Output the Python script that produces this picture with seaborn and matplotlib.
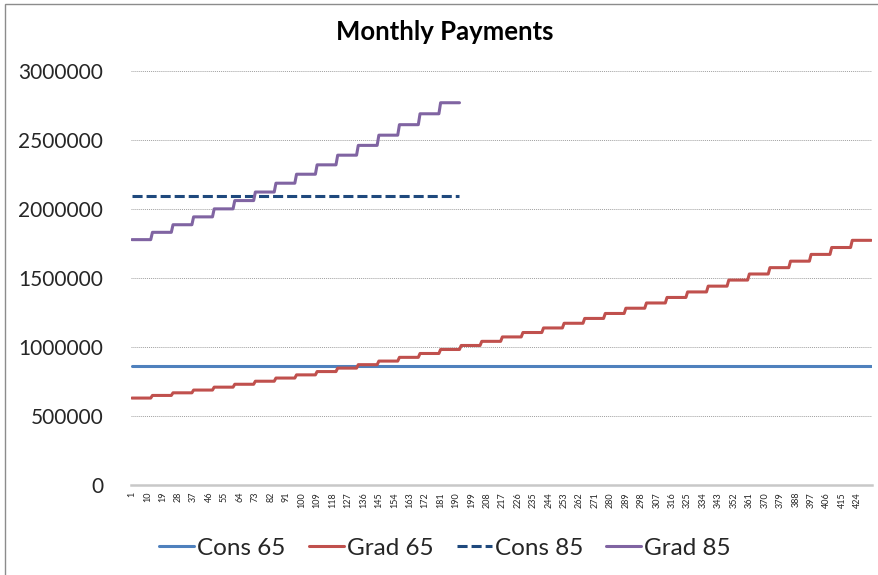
import numpy as np
import pandas as pd
import matplotlib.pyplot as plt
import seaborn as sns
from matplotlib.patches import Rectangle

# values (monthly payment level for each year)
grad65_yearly = [630000, 649000, 668000, 688000, 709000, 730000, 752000, 775000,
                 798000, 822000, 847000, 872000, 898000, 925000, 953000, 982000,
                 1011000, 1041000, 1073000, 1105000, 1138000, 1172000, 1207000, 1243000,
                 1281000, 1319000, 1359000, 1399000, 1441000, 1485000, 1529000, 1575000,
                 1622000, 1671000, 1721000, 1773000]
grad85_yearly = [1778000, 1831000, 1886000, 1943000, 2001000, 2061000, 2123000, 2187000,
                 2252000, 2320000, 2390000, 2461000, 2535000, 2611000, 2690000, 2770000]
cons65_level = 865000
cons85_level = 2094000
months_65 = 432
months_85 = 192
series_names = ['Cons 65', 'Grad 65', 'Cons 85', 'Grad 85']

m65 = np.arange(1, months_65 + 1)
m85 = np.arange(1, months_85 + 1)
frames = [
    pd.DataFrame({'Month': m65, 'Payment': cons65_level, 'Series': 'Cons 65'}),
    pd.DataFrame({'Month': m65, 'Payment': np.repeat(grad65_yearly, 12), 'Series': 'Grad 65'}),
    pd.DataFrame({'Month': m85, 'Payment': cons85_level, 'Series': 'Cons 85'}),
    pd.DataFrame({'Month': m85, 'Payment': np.repeat(grad85_yearly, 12), 'Series': 'Grad 85'}),
]
df = pd.concat(frames, ignore_index=True)

sns.set_theme(style='white')
plt.rcParams['font.family'] = ['Lato', 'DejaVu Sans']

palette = {'Cons 65': '#4F81BD', 'Grad 65': '#C0504D', 'Cons 85': '#1F497D', 'Grad 85': '#8064A2'}
dashes = {'Cons 65': '', 'Grad 65': '', 'Cons 85': (3.3, 1.3), 'Grad 85': ''}

fig = plt.figure(figsize=(8.79, 5.75), dpi=100)
ax = fig.add_axes([131 / 879, 1 - 485 / 575, (872 - 131) / 879, (485 - 71) / 575])

sns.lineplot(data=df, x='Month', y='Payment', hue='Series', style='Series',
             hue_order=series_names, style_order=series_names,
             palette=palette, dashes=dashes, linewidth=2.2, legend=False, ax=ax,
             estimator=None)

ax.set_xlim(0.5, months_65 + 0.5)
ax.set_ylim(0, 3000000)
ax.set_yticks(np.arange(0, 3000001, 500000))
ax.set_yticklabels([str(v) for v in range(0, 3000001, 500000)], fontsize=15)
ticks = np.arange(1, months_65 + 1, 9)
ax.set_xticks(ticks)
ax.set_xticklabels([str(t) for t in ticks], rotation=90, fontsize=6.5)
ax.tick_params(axis='y', length=0, pad=20)
ax.tick_params(axis='x', length=0, pad=5)
ax.set_xlabel('')
ax.set_ylabel('')
ax.grid(axis='y', color='#a0a0a0', linestyle=(0, (1, 1)), linewidth=0.7)
ax.set_axisbelow(True)
for side in ['top', 'right', 'left']:
    ax.spines[side].set_visible(False)
ax.spines['bottom'].set_color('#c8c8c8')
ax.spines['bottom'].set_linewidth(1.8)

fig.text(445 / 879, 1 - 32 / 575, 'Monthly Payments', ha='center', va='center',
         fontsize=18.5, fontweight='bold', color='black')

handles = ax.lines[:4]
leg = fig.legend(handles, series_names, loc='center', bbox_to_anchor=(445 / 879, 1 - 548 / 575),
                 ncol=4, frameon=False, fontsize=17.5, handlelength=1.45,
                 handletextpad=0.12, columnspacing=0.95)

fig.patches.append(Rectangle((5 / 879, -0.1), 1.2, 1 - 4 / 575 + 0.1, transform=fig.transFigure,
                             fill=False, edgecolor='#8c8c8c', linewidth=1.0))

fig.savefig('out.png', dpi=100, facecolor='white')
